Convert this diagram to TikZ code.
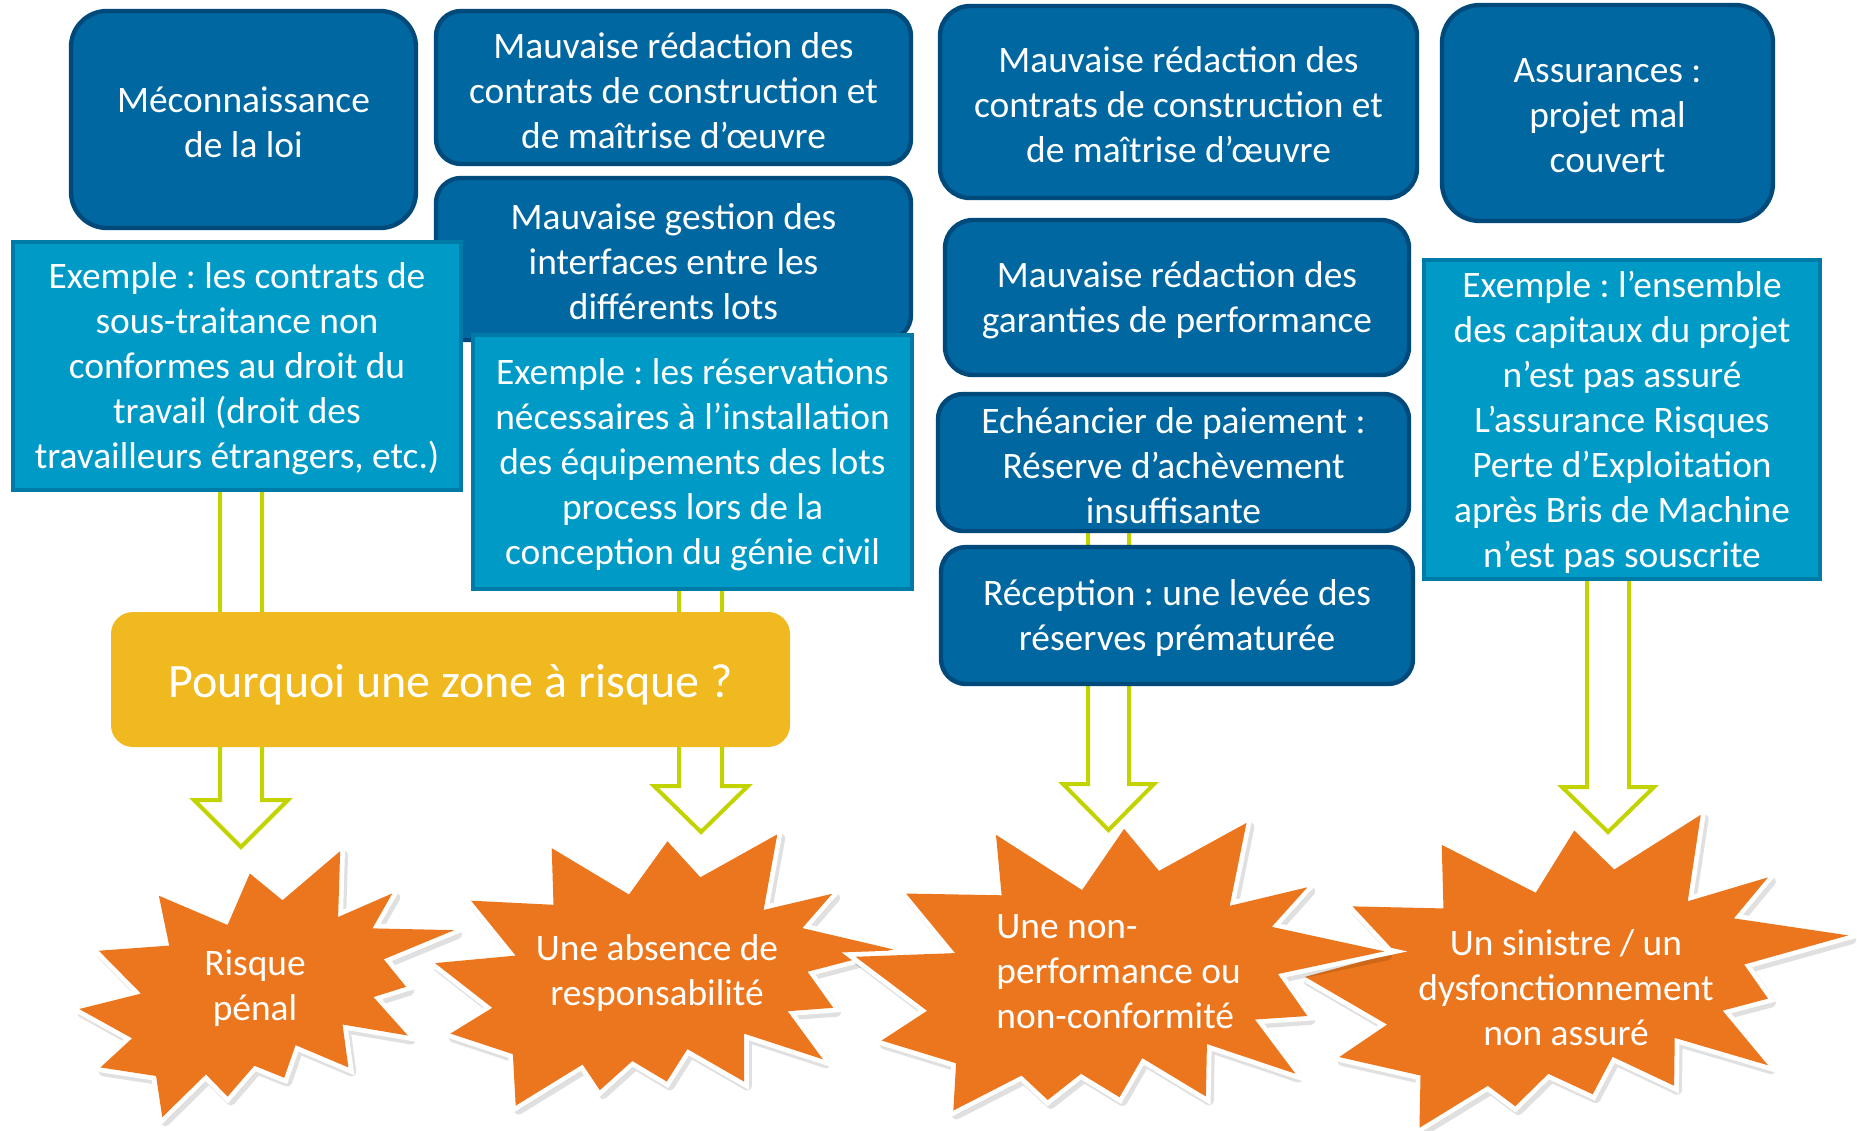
\documentclass[tikz,border=0pt]{standalone}
\usepackage{fontspec}
\setmainfont{Carlito}
\frenchspacing
\usetikzlibrary{calc}
\definecolor{dblue}{HTML}{0067A1}
\definecolor{dblueb}{HTML}{00497B}
\definecolor{cyanf}{HTML}{009AC7}
\definecolor{cyand}{HTML}{007AA6}
\definecolor{ylw}{HTML}{F1B920}
\definecolor{grn}{HTML}{C3D300}
\definecolor{org}{HTML}{EC761D}
\def\starA{(250.3,876.7) -- (282,902.7) -- (338,855) -- (336,919) -- (388.7,896) -- (369.3,930) -- (448.7,931.7) -- (380.3,960) -- (402,986.7) -- (370.3,996.7) -- (403.7,1034) -- (340.3,1023.3) -- (346,1065) -- (294.7,1043.3) -- (283.7,1075) -- (254.7,1063.3) -- (228.7,1093.3) -- (207.7,1071.7) -- (165.3,1113.3) -- (159.3,1073.3) -- (105.3,1065) -- (136,1036.7) -- (84.7,1008.3) -- (144.7,993.3) -- (103.7,951.7) -- (172,946.7) -- (162,898.3) -- (228.7,926.7) -- cycle}
\def\starB{(667.3,845) -- (699.3,880) -- (774,838.3) -- (760.7,911.7) -- (827.3,896) -- (798.3,929.3) -- (886.7,950) -- (803.3,971.7) -- (828.3,1006.7) -- (784,1010) -- (818.3,1056.7) -- (741.7,1031.7) -- (741.7,1078.3) -- (686.7,1046.7) -- (666.7,1078.3) -- (633.3,1058.3) -- (601.7,1086.7) -- (585,1061.7) -- (520,1101.7) -- (517.3,1051.7) -- (456.7,1031.7) -- (497.3,1006.7) -- (441.7,963.3) -- (520,956) -- (476.7,902.7) -- (556.7,906.7) -- (555,851.7) -- (630,896.7) -- cycle}
\def\starC{(1124,832.2) -- (1158,873.2) -- (1243.4,826.4) -- (1227,907.3) -- (1302.8,889.2) -- (1268,927.8) -- (1378,951.7) -- (1274,973.8) -- (1302.8,1014.8) -- (1251.6,1018.2) -- (1291.2,1071.1) -- (1204.8,1042.1) -- (1203.8,1093.3) -- (1141.7,1055.8) -- (1119.5,1094) -- (1082,1071.1) -- (1049.5,1096.7) -- (1024,1072.8) -- (957.4,1107) -- (960.1,1060.9) -- (887.4,1038.7) -- (931.8,1009.7) -- (862,957) -- (959.1,953.4) -- (911.3,895.3) -- (1004.5,897) -- (999,838) -- (1083,891.9) -- cycle}
\def\starD{(1574.3,834) -- (1613.3,872) -- (1697.7,818.7) -- (1685,903) -- (1763.3,879.7) -- (1730,919.7) -- (1841.7,936.3) -- (1740,964.7) -- (1763.3,998) -- (1719,1009.7) -- (1763.3,1063) -- (1672.3,1036.3) -- (1671.7,1083) -- (1611.7,1054.7) -- (1592.3,1091.3) -- (1549,1071.3) -- (1516.7,1103) -- (1490,1083) -- (1423.3,1124) -- (1424.3,1073) -- (1345,1055) -- (1391.7,1023.3) -- (1311.7,976.7) -- (1400,953) -- (1358,908) -- (1446.7,910) -- (1445,848) -- (1536.7,894.7) -- cycle}
\begin{document}
\begin{tikzpicture}[x=0.5pt,y=-0.5pt,
  txt/.style={font=\fontsize{18.7}{22.5}\selectfont, text=white, align=center, inner sep=0pt},
  lbl/.style={txt, yshift=-1.5pt},
  bbox/.style={draw=dblueb, fill=dblue, line width=2.2pt, rounded corners=#1, inner sep=0pt},
  bbox/.default=13pt,
  ebox/.style={draw=cyand, fill=cyanf, line width=2pt, inner sep=0pt},
  arr/.style={draw=grn, line width=2pt, line join=miter},
  starw/.style={draw=white, line width=4.8pt, line join=miter, miter limit=5},
  starf/.style={fill=org},
  starsh/.style={fill=black, draw=black, line width=4.8pt, line join=round, opacity=0.12},
]
\useasboundingbox (0,0) rectangle (1857,1130);
\fill[white] (0,0) rectangle (1857,1130);

% ---------- positions ----------
\coordinate (pA) at (243.5,119.5);
\coordinate (pB) at (673.5,87.5);
\coordinate (pC) at (673.5,259);
\coordinate (pE1) at (237,366);
\coordinate (pE2) at (692.5,462);
\coordinate (pY) at (450.5,679.5);
\coordinate (pD) at (1178.5,102);
\coordinate (pH) at (1607.5,113);
\coordinate (pE) at (1177,297.5);
\coordinate (pF) at (1173.5,462.5);
\coordinate (pG) at (1177,615.5);
\coordinate (pE3) at (1622,419.5);

% arrow tips
\coordinate (t1) at (241,847);
\coordinate (t2) at (701,832);
\coordinate (t3) at (1108.5,830);
\coordinate (t4) at (1608,832);

% ---------- arrows (behind) ----------
\draw[arr] (220,0 |- pE1) -- (220,800) -- (194,800) -- (t1) -- (288,800) -- (262,800) -- (262,0 |- pE1);
\draw[arr] (679,0 |- pE2) -- (679,786) -- (654,786) -- (t2) -- (748,786) -- (722,786) -- (722,0 |- pE2);
\draw[arr] (1088,0 |- pF) -- (1088,784) -- (1063,784) -- (t3) -- (1154,784) -- (1129,784) -- (1129,0 |- pF);
\draw[arr] (1587,0 |- pE3) -- (1587,787) -- (1562,787) -- (t4) -- (1654,787) -- (1629,787) -- (1629,0 |- pE3);

% ---------- boxes ----------
\node[bbox=12.5pt, minimum width=237.5pt, minimum height=81pt] (C) at (pC) {};
\node[lbl] (Ct) at (C) {Mauvaise gestion des\\interfaces entre les\\différents lots};
\node[bbox=12.5pt, minimum width=237.5pt, minimum height=76.5pt] (B) at (pB) {};
\node[lbl] (Bt) at (B) {Mauvaise rédaction des\\contrats de construction et\\de maîtrise d’œuvre};
\node[bbox=18pt, minimum width=172.5pt, minimum height=108.5pt] (A) at (pA) {};
\node[lbl] (At) at (A) {Méconnaissance\\de la loi};
\node[ebox, minimum width=224pt, minimum height=124pt] (E1) at (pE1) {};
\node[lbl] (E1t) at (E1) {Exemple : les contrats de\\sous-traitance non\\conformes au droit du\\travail (droit des\\travailleurs étrangers, etc.)};
\node[ebox, minimum width=219.5pt, minimum height=127pt] (E2) at (pE2) {};
\node[lbl] (E2t) at (E2) {Exemple : les réservations\\nécessaires à l’installation\\des équipements des lots\\process lors de la\\conception du génie civil};
\node[fill=ylw, rounded corners=11pt, minimum width=339.5pt, minimum height=67.5pt, inner sep=0pt] (Y) at (pY) {};
\node[txt, yshift=-2.8pt, font=\fontsize{24}{28}\selectfont] (Yt) at (Y) {Pourquoi une zone à risque ?};

\node[bbox=15pt, minimum width=238.5pt, minimum height=96pt] (D) at (pD) {};
\node[lbl] (Dt) at (D) {Mauvaise rédaction des\\contrats de construction et\\de maîtrise d’œuvre};
\node[bbox=14pt, minimum width=232pt, minimum height=77.5pt] (E) at (pE) {};
\node[lbl] (Et) at (E) {Mauvaise rédaction des\\garanties de performance};
\node[bbox=12.5pt, minimum width=235.5pt, minimum height=68.5pt] (F) at (pF) {};
\node[lbl] (Ft) at (F) {Echéancier de paiement :\\Réserve d’achèvement\\insuffisante};
\node[bbox=12.5pt, minimum width=236pt, minimum height=68.5pt] (G) at (pG) {};
\node[lbl] (Gt) at (G) {Réception : une levée des\\réserves prématurée};
\node[bbox=19pt, minimum width=165.5pt, minimum height=108pt] (H) at (pH) {};
\node[lbl] (Ht) at (H) {Assurances :\\projet mal\\couvert};
\node[ebox, minimum width=198pt, minimum height=159.5pt] (E3) at (pE3) {};
\node[lbl] (E3t) at (E3) {Exemple : l’ensemble\\des capitaux du projet\\n’est pas assuré\\L’assurance Risques\\Perte d’Exploitation\\après Bris de Machine\\n’est pas souscrite};

% ---------- stars ----------
\begin{scope}[scale around={1.03:(266,984)}]
\path[starsh, shift={(3,4)}] \starA;
\draw[starw] \starA;
\fill[starf] \starA;
\end{scope}
\begin{scope}[scale around={1.03:(664,970)}]
\path[starsh, shift={(3,4)}] \starB;
\draw[starw] \starB;
\fill[starf] \starB;
\end{scope}
\begin{scope}[scale around={1.025:(1576,973)}]
\path[starsh, shift={(3,4)}] \starD;
\draw[starw] \starD;
\fill[starf] \starD;
\end{scope}
\begin{scope}[scale around={1.025:(1120,966)}]
\path[starsh, shift={(3,4)}] \starC;
\draw[starw] \starC;
\fill[starf] \starC;
\end{scope}

\node[lbl] (s1) at (255,985) {Risque\\pénal};
\node[lbl] (s2) at (657,970) {Une absence de\\responsabilité};
\node[lbl, align=left, anchor=west] (s3) at (996,969) {Une non-\\performance ou\\non-conformité};
\node[lbl] (s4) at (1566,985) {Un sinistre / un\\dysfonctionnement\\non assuré};
\end{tikzpicture}
\end{document}
